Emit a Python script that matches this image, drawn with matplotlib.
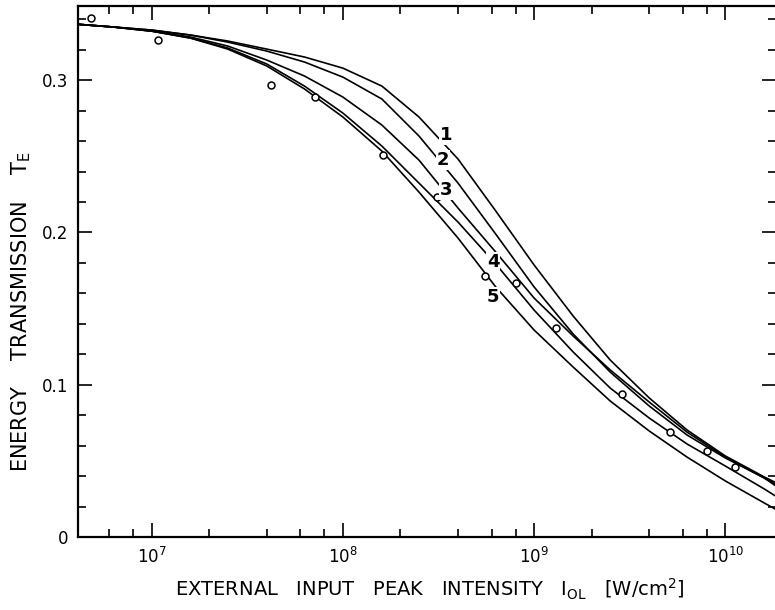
import matplotlib
matplotlib.use('Agg')
import matplotlib.pyplot as plt
import matplotlib.ticker as ticker

# theory curves, shared intensity grid [W/cm^2]
CURVE_I = [4e6, 6.3e6, 1e7, 1.6e7, 2.5e7, 4e7, 6.3e7, 1e8, 1.6e8, 2.5e8,
           4e8, 6.3e8, 1e9, 1.6e9, 2.5e9, 4e9, 6.3e9, 1e10, 1.6e10, 1.9e10]
CURVE_1 = [0.3368, 0.3349, 0.3329, 0.3296, 0.3257, 0.3204, 0.3152, 0.3079, 0.2961, 0.2758,
           0.2482, 0.2141, 0.1786, 0.1451, 0.1162, 0.0913, 0.0703, 0.0532, 0.0394, 0.0348]
CURVE_2 = [0.3368, 0.3349, 0.3329, 0.3296, 0.3250, 0.3191, 0.3119, 0.3020, 0.2876, 0.2633,
           0.2324, 0.1989, 0.1642, 0.1333, 0.1083, 0.0860, 0.0670, 0.0519, 0.0387, 0.0335]
CURVE_3 = [0.3368, 0.3349, 0.3322, 0.3283, 0.3224, 0.3132, 0.3027, 0.2889, 0.2705, 0.2475,
           0.2160, 0.1871, 0.1569, 0.1320, 0.1097, 0.0886, 0.0689, 0.0525, 0.0387, 0.0322]
CURVE_4 = [0.3368, 0.3349, 0.3322, 0.3276, 0.3211, 0.3106, 0.2961, 0.2784, 0.2567, 0.2324,
           0.2068, 0.1793, 0.1490, 0.1215, 0.0978, 0.0781, 0.0611, 0.0466, 0.0315, 0.0256]
CURVE_5 = [0.3368, 0.3349, 0.3322, 0.3276, 0.3204, 0.3093, 0.2942, 0.2758, 0.2534, 0.2265,
           0.1963, 0.1642, 0.1359, 0.1116, 0.0893, 0.0696, 0.0525, 0.0368, 0.0223, 0.0171]
CURVE_NAMES = ['1', '2', '3', '4', '5']
# where the curve numbers sit (intensity, T)
LABEL_I = [3.45e8, 3.35e8, 3.45e8, 6.1e8, 6.1e8]
LABEL_T = [0.264, 0.2475, 0.228, 0.1806, 0.1576]

# measured points
MEAS_I = [4.81e6, 1.08e7, 4.21e7, 7.14e7, 1.62e8, 3.10e8, 5.53e8, 8.04e8,
          1.30e9, 2.88e9, 5.14e9, 8.02e9, 1.12e10]
MEAS_T = [0.3408, 0.3263, 0.2968, 0.2889, 0.2508, 0.2232, 0.1714, 0.1668,
          0.1372, 0.0939, 0.069, 0.0565, 0.046]

Y_TICKS = [0, 0.1, 0.2, 0.3]
Y_TICKLABELS = ['0', '0.1', '0.2', '0.3']
X_TICKS = [1e7, 1e8, 1e9, 1e10]
X_TICKLABELS = ['$10^{7}$', '$10^{8}$', '$10^{9}$', '$10^{10}$']

plt.rcParams['font.family'] = 'DejaVu Sans'
plt.rcParams['mathtext.fontset'] = 'dejavusans'

fig = plt.figure(figsize=(7.75, 6.10), dpi=100)
ax = fig.add_axes([78 / 775, 73 / 610, 698 / 775, 531 / 610])

for curve in [CURVE_1, CURVE_2, CURVE_3, CURVE_4, CURVE_5]:
    ax.plot(CURVE_I, curve, color='black', lw=1.2, solid_joinstyle='round')

ax.plot(MEAS_I, MEAS_T, linestyle='none', marker='o', markersize=5,
        markerfacecolor='white', markeredgecolor='black', markeredgewidth=1.1)

# curve numbers, white box breaks the line like the original
for name, li, lt in zip(CURVE_NAMES, LABEL_I, LABEL_T):
    ax.text(li, lt, name, ha='center', va='center', fontsize=13,
            fontweight='bold',
            bbox=dict(facecolor='white', edgecolor='none', pad=0.5))

ax.set_xscale('log')
ax.set_xlim(4.12e6, 1.84e10)
ax.set_ylim(0, 0.3487)

ax.set_xticks(X_TICKS)
ax.set_xticklabels(X_TICKLABELS)
ax.xaxis.set_minor_locator(ticker.LogLocator(base=10, subs=[2, 4, 6, 8]))
ax.xaxis.set_minor_formatter(ticker.NullFormatter())
ax.set_yticks(Y_TICKS)
ax.set_yticklabels(Y_TICKLABELS)
ax.yaxis.set_minor_locator(ticker.MultipleLocator(0.02))

ax.tick_params(which='both', direction='in', top=True, right=True, width=1.2)
ax.tick_params(which='major', length=10, labelsize=12, pad=7)
ax.tick_params(which='minor', length=6)

for side in ['left', 'bottom', 'top']:
    ax.spines[side].set_linewidth(1.6)
ax.spines['right'].set_linewidth(1.0)

fig.text(0.555, 0.033,
         'EXTERNAL   INPUT   PEAK   INTENSITY   $\\mathrm{I_{OL}}$   [W/cm$^2$]',
         ha='center', va='center', fontsize=14)
fig.text(0.027, 0.49, 'ENERGY    TRANSMISSION    $\\mathrm{T_E}$', rotation=90,
         ha='center', va='center', fontsize=15)

fig.savefig('out.png', dpi=100)
